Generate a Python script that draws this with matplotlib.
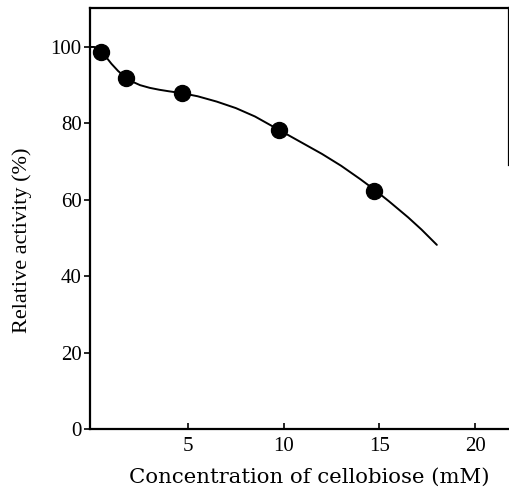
import matplotlib
matplotlib.use("Agg")
import matplotlib.pyplot as plt

# measured points
conc_points = [0.45, 1.75, 4.7, 9.75, 14.7]
activity_points = [98.7, 92.0, 88.0, 78.3, 62.3]

# fitted curve as drawn in the reference
curve_x = [-0.1, 0.1, 0.25, 0.45, 0.7, 1.0, 1.35, 1.75, 2.1, 2.5, 3.0, 3.5,
           4.0, 4.7, 5.5, 6.5, 7.5, 8.5, 9.75, 11.0, 12.0, 13.0, 14.0, 14.7,
           15.5, 16.5, 17.2, 18.0]
curve_y = [100.0, 100.0, 99.7, 98.9, 97.5, 95.6, 93.7, 92.0, 90.9, 90.0, 89.3,
           88.8, 88.4, 87.9, 87.1, 85.7, 84.0, 81.8, 78.3, 74.8, 72.0, 68.9,
           65.4, 62.8, 59.6, 55.4, 52.2, 48.2]

xticks = [5, 10, 15, 20]
yticks = [0, 20, 40, 60, 80, 100]

plt.rcParams['font.family'] = ['Liberation Serif', 'DejaVu Serif']

fig = plt.figure(figsize=(5.10, 4.99), dpi=100)
ax = fig.add_axes([90/510, 1 - 429/499, (509-90)/510, (429-8)/499])

ax.plot(curve_x, curve_y, color='black', lw=1.4, solid_capstyle='round',
        solid_joinstyle='round', clip_on=False, zorder=2)
ax.plot(conc_points, activity_points, 'o', color='black', ms=11.5, zorder=3,
        clip_on=False)

ax.set_xlim(-0.12, 21.77)
ax.set_ylim(0, 110.2)
ax.set_xticks(xticks)
ax.set_yticks(yticks)
ax.set_xticklabels([str(t) for t in xticks])
ax.set_yticklabels([str(t) for t in yticks])

for s in ax.spines.values():
    s.set_linewidth(1.6)
ax.spines['right'].set_bounds(69, 110.2)

ax.tick_params(axis='x', direction='in', length=4, width=1.2, pad=6,
               labelsize=15, top=False)
ax.tick_params(axis='y', direction='out', length=4, width=1.2, pad=2,
               labelsize=15, right=False)

ax.set_xlabel('Concentration of cellobiose (mM)', fontsize=15.3,
              family=['DejaVu Serif'], fontweight='light')
ax.set_ylabel('Relative activity (%)', fontsize=16)
ax.xaxis.set_label_coords(0.523, -0.093)
ax.yaxis.set_label_coords(-0.138, 0.449)

fig.savefig('out.png', dpi=100)
